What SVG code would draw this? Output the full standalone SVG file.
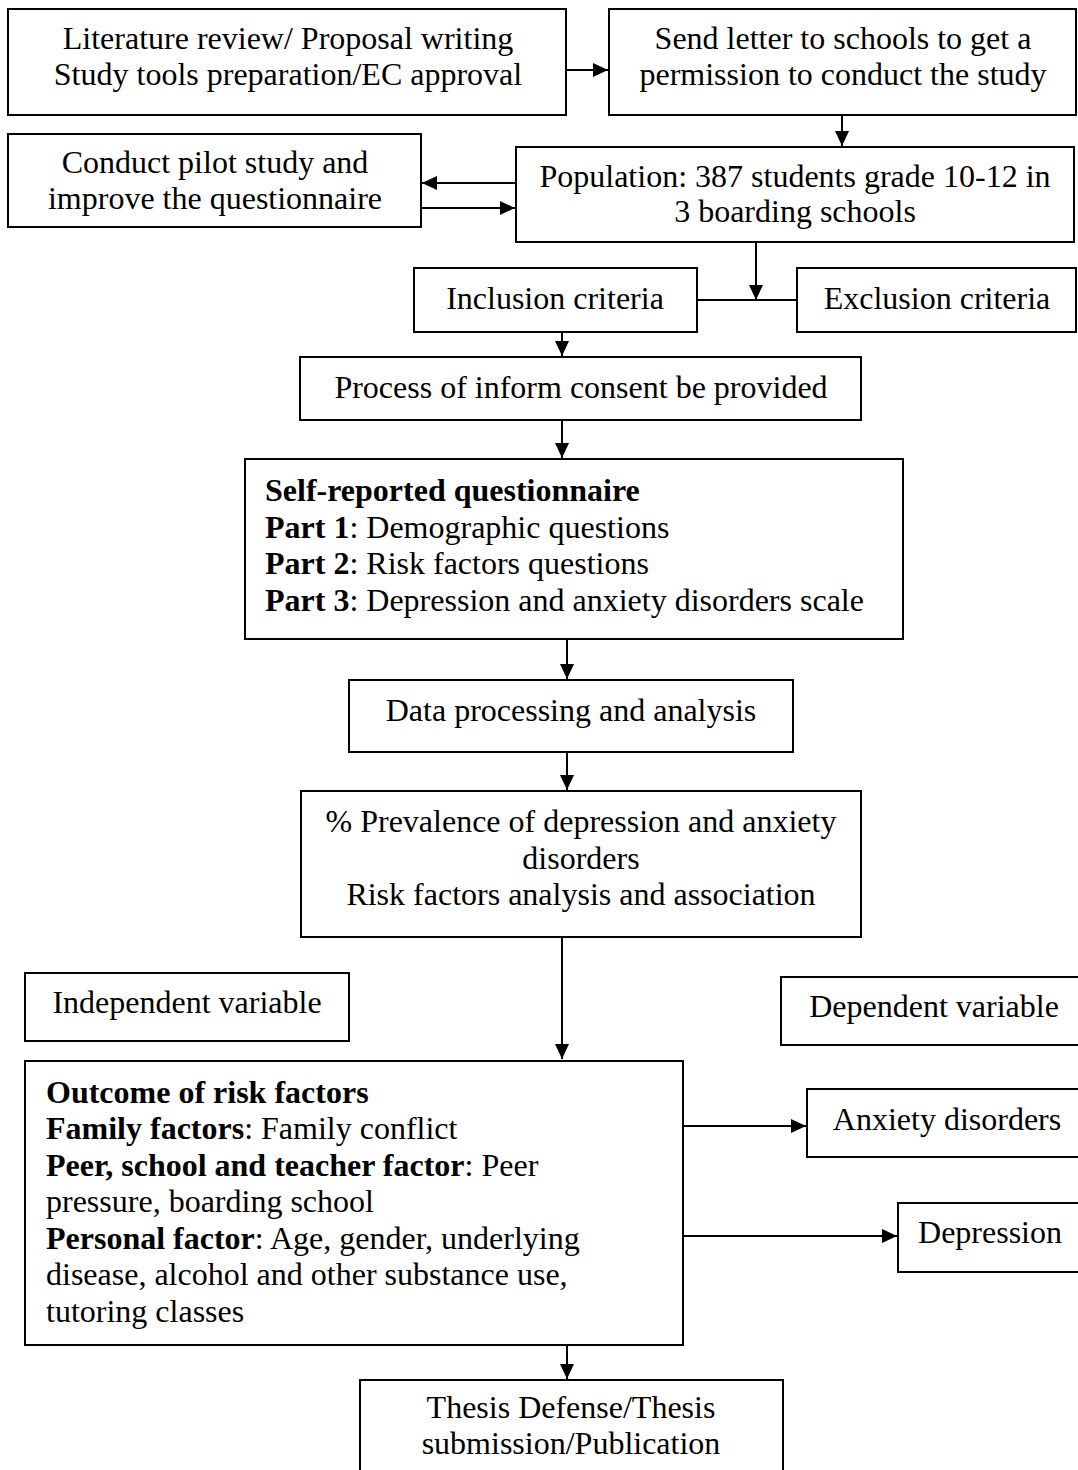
<svg xmlns="http://www.w3.org/2000/svg" width="1078" height="1470" viewBox="0 0 1078 1470">
<style>
.box{fill:#fff;stroke:#000;stroke-width:2}
text{font-family:"Liberation Serif","Times New Roman",serif;font-size:32px;fill:#000}
.c{text-anchor:middle}
.b{font-weight:bold}
.ln{stroke:#000;stroke-width:2;fill:none}
</style>
<defs>
<marker id="ah" markerWidth="16" markerHeight="16" refX="15" refY="8" orient="auto" markerUnits="userSpaceOnUse">
<path d="M0,1 L15,8 L0,15 Z" fill="#000"/>
</marker>
</defs>
<rect width="1078" height="1470" fill="#fff"/>
<g id="connectors">
<line class="ln" x1="566" y1="70" x2="608" y2="70" marker-end="url(#ah)"/>
<line class="ln" x1="842" y1="115" x2="842" y2="146" marker-end="url(#ah)"/>
<line class="ln" x1="516" y1="183" x2="422" y2="183" marker-end="url(#ah)"/>
<line class="ln" x1="421" y1="208" x2="515" y2="208" marker-end="url(#ah)"/>
<line class="ln" x1="756" y1="242" x2="756" y2="300" marker-end="url(#ah)"/>
<line class="ln" x1="697" y1="300" x2="797" y2="300"/>
<line class="ln" x1="562" y1="332" x2="562" y2="356" marker-end="url(#ah)"/>
<line class="ln" x1="562" y1="420" x2="562" y2="458" marker-end="url(#ah)"/>
<line class="ln" x1="567" y1="639" x2="567" y2="679" marker-end="url(#ah)"/>
<line class="ln" x1="567" y1="752" x2="567" y2="790" marker-end="url(#ah)"/>
<line class="ln" x1="562" y1="937" x2="562" y2="1059" marker-end="url(#ah)"/>
<line class="ln" x1="683" y1="1126" x2="806" y2="1126" marker-end="url(#ah)"/>
<line class="ln" x1="683" y1="1236" x2="897" y2="1236" marker-end="url(#ah)"/>
<line class="ln" x1="567" y1="1345" x2="567" y2="1379" marker-end="url(#ah)"/>
</g>
<g id="n-literature">
<rect class="box" x="8" y="9" width="558" height="106"/>
<text class="c" x="288" y="49">Literature review/ Proposal writing</text>
<text class="c" x="288" y="85">Study tools preparation/EC approval</text>
</g>
<g id="n-letter">
<rect class="box" x="609" y="9" width="467" height="106"/>
<text class="c" x="843" y="49">Send letter to schools to get a</text>
<text class="c" x="843" y="85">permission to conduct the study</text>
</g>
<g id="n-pilot">
<rect class="box" x="8" y="134" width="413" height="93"/>
<text class="c" x="215" y="173">Conduct pilot study and</text>
<text class="c" x="215" y="209">improve the questionnaire</text>
</g>
<g id="n-population">
<rect class="box" x="516" y="147" width="558" height="95"/>
<text class="c" x="795" y="187">Population: 387 students grade 10-12 in</text>
<text class="c" x="795" y="222">3 boarding schools</text>
</g>
<g id="n-inclusion">
<rect class="box" x="414" y="268" width="283" height="64"/>
<text class="c" x="555" y="309">Inclusion criteria</text>
</g>
<g id="n-exclusion">
<rect class="box" x="797" y="268" width="279" height="64"/>
<text class="c" x="937" y="309">Exclusion criteria</text>
</g>
<g id="n-consent">
<rect class="box" x="300" y="357" width="561" height="63"/>
<text class="c" x="581" y="398">Process of inform consent be provided</text>
</g>
<g id="n-questionnaire">
<rect class="box" x="245" y="459" width="658" height="180"/>
<text class="b" x="265" y="501">Self-reported questionnaire</text>
<text x="265" y="537.5"><tspan class="b">Part 1</tspan>: Demographic questions</text>
<text x="265" y="574"><tspan class="b">Part 2</tspan>: Risk factors questions</text>
<text x="265" y="610.5"><tspan class="b">Part 3</tspan>: Depression and anxiety disorders scale</text>
</g>
<g id="n-data">
<rect class="box" x="349" y="680" width="444" height="72"/>
<text class="c" x="571" y="721">Data processing and analysis</text>
</g>
<g id="n-prevalence">
<rect class="box" x="301" y="791" width="560" height="146"/>
<text class="c" x="581" y="832">% Prevalence of depression and anxiety</text>
<text class="c" x="581" y="868.5">disorders</text>
<text class="c" x="581" y="905">Risk factors analysis and association</text>
</g>
<g id="n-independent">
<rect class="box" x="25" y="973" width="324" height="68"/>
<text class="c" x="187" y="1013">Independent variable</text>
</g>
<g id="n-dependent">
<rect class="box" x="781" y="977" width="310" height="68"/>
<text class="c" x="934" y="1017">Dependent variable</text>
</g>
<g id="n-outcome">
<rect class="box" x="25" y="1061" width="658" height="284"/>
<text class="b" x="46" y="1103">Outcome of risk factors</text>
<text x="46" y="1139"><tspan class="b">Family factors</tspan>: Family conflict</text>
<text x="46" y="1175.5"><tspan class="b">Peer, school and teacher factor</tspan>: Peer</text>
<text x="46" y="1212">pressure, boarding school</text>
<text x="46" y="1248.5"><tspan class="b">Personal factor</tspan>: Age, gender, underlying</text>
<text x="46" y="1285">disease, alcohol and other substance use,</text>
<text x="46" y="1321.5">tutoring classes</text>
</g>
<g id="n-anxiety">
<rect class="box" x="807" y="1089" width="290" height="68"/>
<text class="c" x="947" y="1130">Anxiety disorders</text>
</g>
<g id="n-depression">
<rect class="box" x="898" y="1203" width="190" height="69"/>
<text class="c" x="990" y="1243">Depression</text>
</g>
<g id="n-thesis">
<rect class="box" x="360" y="1380" width="423" height="110"/>
<text class="c" x="571" y="1418">Thesis Defense/Thesis</text>
<text class="c" x="571" y="1454">submission/Publication</text>
</g>
</svg>
